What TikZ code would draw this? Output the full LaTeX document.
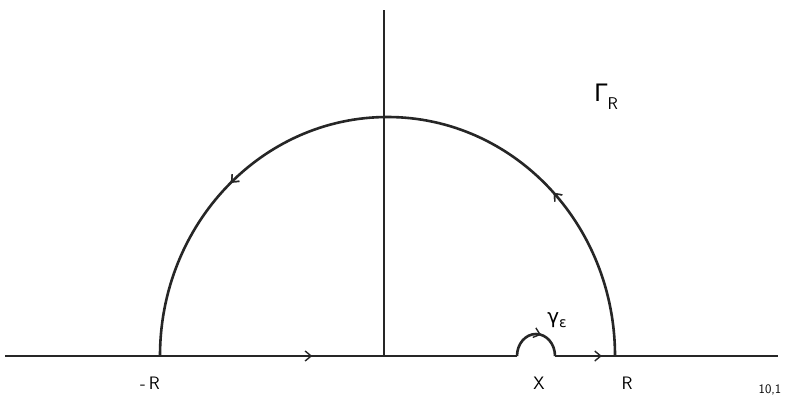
\documentclass[tikz,border=0pt]{standalone}
\usepackage{fontspec}
\newfontfamily\gk{DejaVu Sans}
\usepackage{tikz}
\usetikzlibrary{arrows.meta,decorations.markings}
\tikzset{
  curve/.style={line width=2.6pt, black!85},
  midarrow/.style={postaction={decorate},decoration={markings,
    mark=at position #1 with {\arrow{Straight Barb[length=6pt,width=10pt,line width=1.4pt]}}}},
  lbl/.style={font=\fontsize{18}{20}\selectfont\sffamily, inner sep=0pt}
}
\begin{document}
\begin{tikzpicture}[x=1pt,y=1pt]
\useasboundingbox (0,0) rectangle (797,397);
\fill[white] (0,0) rectangle (797,397);
% coordinates
\coordinate (L) at (5,41);
\coordinate (mR) at (160,41);
\coordinate (O) at (384,41);
\coordinate (Otop) at (384,387);
\coordinate (a) at (517,41);
\coordinate (b) at (555,41);
\coordinate (R) at (615,41);
\coordinate (E) at (778,41);
% axes
\draw[curve] (O) -- (Otop);
\draw[curve, midarrow=0.6] (L) -- (a);
\draw[curve, midarrow=0.21] (b) -- (E);
% small semicircle
\draw[curve, midarrow=0.58] (a) arc[start angle=180, end angle=0, x radius=19, y radius=22];
% big semicircle
\draw[curve, midarrow=0.243, midarrow=0.738] (R) arc[start angle=0, end angle=180, x radius=227.5, y radius=239];
% labels
\node[lbl] (nmR) at (150,14) {-\,R};
\node[lbl] (nR) at (627,14) {R};
\node[lbl] (nX) at (539,14) {X};
\node[lbl] (ng) at (557,77) {{\gk\fontsize{20}{22}\selectfont γ}\raisebox{-4pt}{\gk\fontsize{14}{16}\selectfont ε}};
\node[lbl] (nG) at (606,300) {{\gk\fontsize{24}{26}\selectfont Γ}\raisebox{-8pt}{\fontsize{17}{19}\selectfont R}};
\node[lbl, font=\fontsize{13}{15}\selectfont\sffamily] (nn) at (770,7) {10,1};
\end{tikzpicture}
\end{document}
